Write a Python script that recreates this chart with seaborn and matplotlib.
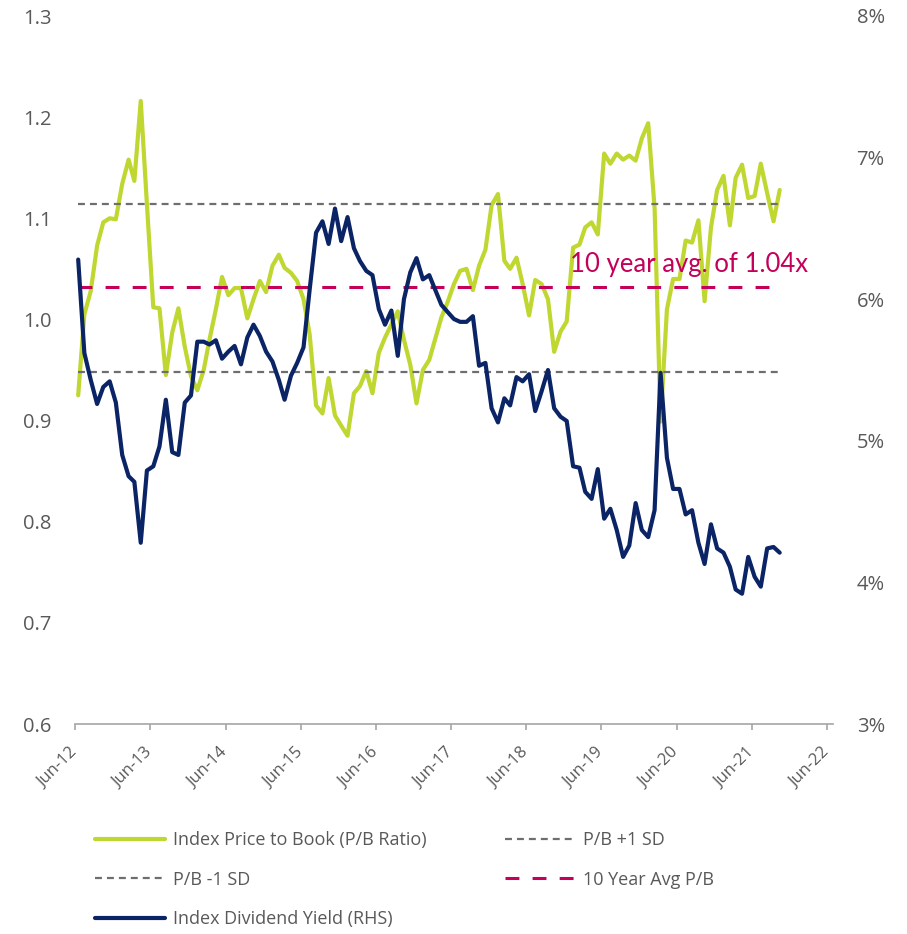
import numpy as np
import pandas as pd
import matplotlib
matplotlib.use("Agg")
from matplotlib import pyplot as plt
import matplotlib.dates as mdates
import seaborn as sns

# monthly observations, Jun-12 .. Oct-21 (plotted mid-month)
START, N_OBS = "2012-06-01", 113

PB_RATIO = [
    0.925, 1.005, 1.028, 1.073, 1.096, 1.100, 1.099, 1.134, 1.158, 1.137,
    1.216, 1.114, 1.012, 1.011, 0.945, 0.987, 1.011, 0.973, 0.944, 0.930,
    0.950, 0.980, 1.010, 1.042, 1.024, 1.031, 1.031, 1.001, 1.020, 1.038,
    1.027, 1.053, 1.064, 1.051, 1.046, 1.038, 1.020, 0.985, 0.915, 0.907,
    0.942, 0.905, 0.895, 0.885, 0.927, 0.934, 0.949, 0.927, 0.967, 0.982,
    0.995, 1.008, 0.980, 0.955, 0.917, 0.950, 0.960, 0.980, 1.002, 1.017,
    1.035, 1.048, 1.050, 1.029, 1.053, 1.069, 1.113, 1.124, 1.058, 1.050,
    1.061, 1.035, 1.004, 1.039, 1.035, 1.020, 0.968, 0.988, 0.998, 1.071,
    1.074, 1.091, 1.096, 1.084, 1.164, 1.154, 1.164, 1.158, 1.162, 1.157,
    1.179, 1.194, 1.110, 0.899, 1.010, 1.040, 1.040, 1.078, 1.076, 1.098,
    1.018, 1.091, 1.128, 1.142, 1.093, 1.140, 1.153, 1.120, 1.122, 1.154,
    1.125, 1.097, 1.128,
]
DIV_YIELD = [
    6.28, 5.62, 5.43, 5.26, 5.38, 5.42, 5.27, 4.90, 4.75, 4.71,
    4.28, 4.79, 4.82, 4.96, 5.29, 4.92, 4.90, 5.27, 5.32, 5.70,
    5.70, 5.68, 5.71, 5.58, 5.63, 5.67, 5.54, 5.73, 5.82, 5.74,
    5.63, 5.56, 5.43, 5.29, 5.46, 5.55, 5.66, 6.07, 6.47, 6.55,
    6.39, 6.64, 6.41, 6.58, 6.36, 6.27, 6.20, 6.17, 5.93, 5.82,
    5.92, 5.60, 6.00, 6.19, 6.29, 6.14, 6.17, 6.07, 5.96, 5.91,
    5.86, 5.84, 5.84, 5.88, 5.53, 5.55, 5.23, 5.13, 5.30, 5.25,
    5.45, 5.42, 5.47, 5.21, 5.35, 5.50, 5.23, 5.17, 5.14, 4.82,
    4.81, 4.64, 4.59, 4.80, 4.45, 4.52, 4.37, 4.18, 4.26, 4.56,
    4.37, 4.32, 4.51, 5.48, 4.88, 4.66, 4.66, 4.48, 4.51, 4.28,
    4.13, 4.41, 4.24, 4.21, 4.11, 3.95, 3.92, 4.18, 4.04, 3.97,
    4.24, 4.25, 4.21,
]
PB_PLUS_SD = 1.114
PB_MINUS_SD = 0.948
PB_AVG = 1.032

GREEN, NAVY, CRIMSON, DGRAY = "#bfd730", "#0b2466", "#c4005a", "#6e6e6e"
TXT, AXC = "#595959", "#a6a6a6"

dates = pd.date_range(START, periods=N_OBS, freq="MS") + pd.Timedelta(days=14)
df = pd.DataFrame({
    "date": dates,
    "pb": PB_RATIO,
    "dy": DIV_YIELD,
    "plus_sd": PB_PLUS_SD,
    "minus_sd": PB_MINUS_SD,
    "avg": PB_AVG,
})

sns.set_theme(style="white")
plt.rcParams["font.family"] = ["Open Sans", "DejaVu Sans"]
plt.rcParams["lines.scale_dashes"] = False

fig = plt.figure(figsize=(9.07, 9.34), dpi=100)
ax = fig.add_axes([75.3 / 907, 1 - 724 / 934, (833 - 75.3) / 907, (724 - 16) / 934])
ax2 = ax.twinx()

sns.lineplot(data=df, x="date", y="pb", ax=ax, color=GREEN, lw=3.0, legend=False, zorder=2)
h_pb = ax.lines[-1]
sns.lineplot(data=df, x="date", y="plus_sd", ax=ax, color=DGRAY, lw=1.6, legend=False, zorder=3)
h_hi = ax.lines[-1]
sns.lineplot(data=df, x="date", y="minus_sd", ax=ax, color=DGRAY, lw=1.6, legend=False, zorder=3)
h_lo = ax.lines[-1]
sns.lineplot(data=df, x="date", y="avg", ax=ax, color=CRIMSON, lw=2.2, legend=False, zorder=3)
h_avg = ax.lines[-1]
for h in (h_hi, h_lo):
    h.set_dashes((5.0, 3.6))
h_avg.set_dashes((10.0, 9.5))

sns.lineplot(data=df, x="date", y="dy", ax=ax2, color=NAVY, lw=3.0, legend=False)
h_dy = ax2.lines[-1]

ax.set_xlim(pd.Timestamp("2012-06-01"), pd.Timestamp("2022-07-01"))
ax.set_ylim(0.6, 1.3)
ax2.set_ylim(3, 8)
ax.set_yticks(np.arange(0.6, 1.31, 0.1))
ax.yaxis.set_major_formatter(matplotlib.ticker.FormatStrFormatter("%.1f"))
ax2.set_yticks(np.arange(3, 8.1, 1))
ax2.yaxis.set_major_formatter(matplotlib.ticker.FormatStrFormatter("%d%%"))

ax.xaxis.set_major_locator(mdates.MonthLocator(bymonth=6, bymonthday=1))
ax.xaxis.set_major_formatter(mdates.DateFormatter("%b-%y"))

for a in (ax, ax2):
    a.set_xlabel("")
    a.set_ylabel("")
    for s in a.spines.values():
        s.set_visible(False)
ax.spines["bottom"].set_visible(True)
ax.spines["bottom"].set_color(AXC)
ax.spines["bottom"].set_linewidth(1.2)

ax.tick_params(axis="x", bottom=True, length=4, width=1.2, color=AXC,
               labelsize=12, labelcolor=TXT, pad=15)
ax.tick_params(axis="y", left=False, length=0, labelsize=14.5, labelcolor=TXT, pad=17)
ax2.tick_params(axis="y", right=False, length=0, labelsize=14.5, labelcolor=TXT, pad=17)
for lab in ax.get_xticklabels():
    lab.set_rotation(45)
    lab.set_ha("right")
    lab.set_va("center")
    lab.set_rotation_mode("anchor")

ax.text(pd.Timestamp("2019-01-01"), 1.047, "10 year avg. of 1.04x", color=CRIMSON,
        fontsize=18.5, family=["Lato", "DejaVu Sans"], va="baseline", ha="left", zorder=5)

leg_font = {"family": ["Open Sans", "DejaVu Sans"], "size": 13}
common = dict(frameon=False, loc="upper left", borderpad=0, borderaxespad=0,
              handlelength=3.9, handletextpad=0.4, labelspacing=1.2, prop=leg_font,
              labelcolor=TXT)
fig.legend([h_pb, h_lo, h_dy],
           ["Index Price to Book (P/B Ratio)", "P/B -1 SD", "Index Dividend Yield (RHS)"],
           bbox_to_anchor=(95 / 907, 1 - 831 / 934), **common)
fig.legend([h_hi, h_avg], ["P/B +1 SD", "10 Year Avg P/B"],
           bbox_to_anchor=(505 / 907, 1 - 831 / 934), **common)

fig.savefig("out.png", dpi=100)
